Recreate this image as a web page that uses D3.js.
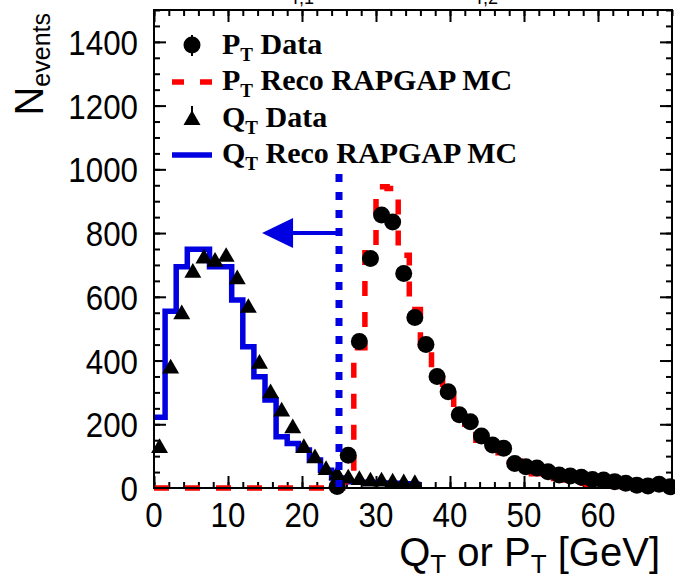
<!DOCTYPE html>
<html><head><meta charset="utf-8">
<script src="https://cdn.jsdelivr.net/npm/d3@7"></script>
<style>body{margin:0;background:#fff}svg{display:block}</style>
</head><body><svg id="c" width="675" height="578"></svg>
<script>
// ---------------- data ----------------
const xDomain = [0, 70];
const yDomain = [0, 1500];
const xMajorTicks = [0, 10, 20, 30, 40, 50, 60];
const yMajorTicks = [0, 200, 400, 600, 800, 1000, 1200, 1400];

// Q_T data (triangles): bin centres and counts
const qtX = [0.75,2.25,3.75,5.25,6.75,8.25,9.75,11.25,12.75,14.25,15.75,17.25,18.75,20.25,21.75,23.25,24.75,26.25,27.75,29.25,30.75,32.25,33.75,35.25];
const qtData = [125,375,545,675,720,710,725,655,565,390,297,240,187,125,93,56,41,30,25,20,20,17,15,12];

// Q_T reco RAPGAP MC (blue histogram): bin edges and contents
const qtMcEdges = [0,1.5,3,4.5,6,7.5,9,10.5,12,13.5,15,16.5,18,19.5,21,22.5,24,25.5,27,28.5,30,31.5,33,34.5,36];
const qtMc = [222,555,694,749,749,694,694,590,443,349,276,161,140,119,88,56,31,20,18,17,16,15,13,12];

// P_T data (circles)
const ptX = [24.75,26.25,27.75,29.25,30.75,32.25,33.75,35.25,36.75,38.25,39.75,41.25,42.75,44.25,45.75,47.25,48.75,50.25,51.75,53.25,54.75,56.25,57.75,59.25,60.75,62.25,63.75,65.25,66.75,68.25,69.75];
const ptData = [5,103,460,720,857,835,673,535,450,350,302,230,208,163,135,125,77,67,63,51,41,38,34,27,25,20,15,9,6,12,4];

// P_T reco RAPGAP MC (red dashed histogram)
const ptMcEdges = [0,1.5,3,4.5,6,7.5,9,10.5,12,13.5,15,16.5,18,19.5,21,22.5,24,25.5,27,28.5,30,31.5,33,34.5,36,37.5,39,40.5,42,43.5,45,46.5,48,49.5,51,52.5,54,55.5,57,58.5,60,61.5,63,64.5,66,67.5,69,70];
const ptMc = [0,0,0,0,0,0,0,0,0,0,0,0,0,0,0,0,0,20,440,760,945,940,730,560,440,345,290,225,190,150,120,100,85,62,45,38,30,25,15,10,8,6,5,4,3,2,0];

// cut line and arrow
const cutX = 25, cutTop = 990;
const arrowY = 800, arrowTipX = 14.6;

// ---------------- drawing ----------------
const svg = d3.select("#c");
const L = 154, R = 672, T = 10, B = 488;
const x = d3.scaleLinear().domain(xDomain).range([L, R]);
const y = d3.scaleLinear().domain(yDomain).range([B, T]);
const BLUE = "#0000e0", RED = "#ff0000";
const sans = "'Liberation Sans', Arial, sans-serif";
const serif = "'Liberation Serif', 'Times New Roman', serif";

// cut-off header remnants
svg.append("text").attr("x", 290).attr("y", 4).style("font-family", sans).style("font-size", "18px").text("T,1");
svg.append("text").attr("x", 474).attr("y", 4).style("font-family", sans).style("font-size", "18px").text("T,2");

// axes ticks (inward), all four sides
const xMinor = d3.range(0, 70.01, 2);
const yMinor = d3.range(0, 1500.01, 50);
function axisG(gen, tr) {
  const g = svg.append("g").attr("transform", tr).call(gen);
  g.select(".domain").remove();
  g.selectAll("line").attr("stroke", "#000").attr("stroke-width", 2);
  g.selectAll("text").remove();
  return g;
}
axisG(d3.axisBottom(x).tickValues(xMinor).tickSize(-6), `translate(0,${B})`);
axisG(d3.axisBottom(x).tickValues(xMajorTicks).tickSize(-12), `translate(0,${B})`);
axisG(d3.axisTop(x).tickValues(xMinor).tickSize(-6), `translate(0,${T})`);
axisG(d3.axisTop(x).tickValues(xMajorTicks).tickSize(-12), `translate(0,${T})`);
axisG(d3.axisLeft(y).tickValues(yMinor).tickSize(-6), `translate(${L},0)`);
axisG(d3.axisLeft(y).tickValues(yMajorTicks).tickSize(-12), `translate(${L},0)`);
axisG(d3.axisRight(y).tickValues(yMinor).tickSize(-6), `translate(${R},0)`);
axisG(d3.axisRight(y).tickValues(yMajorTicks).tickSize(-12), `translate(${R},0)`);

// tick labels
svg.append("g").selectAll("text").data(xMajorTicks).join("text")
  .attr("transform", d => `translate(${x(d)},527) scale(0.95,1.08)`).attr("text-anchor", "middle")
  .style("font-family", sans).style("font-size", "33px").text(d => d);
svg.append("g").selectAll("text").data(yMajorTicks).join("text")
  .attr("transform", d => `translate(138,${y(d) + 13}) scale(0.95,1.08)`).attr("text-anchor", "end")
  .style("font-family", sans).style("font-size", "33px").text(d => d);

// axis titles
const xt = svg.append("text").attr("x", 660).attr("y", 566).attr("text-anchor", "end")
  .style("font-family", sans).style("font-size", "40px");
xt.append("tspan").text("Q");
xt.append("tspan").attr("dy", 7).style("font-size", "26px").text("T");
xt.append("tspan").attr("dy", -7).text(" or P");
xt.append("tspan").attr("dy", 7).style("font-size", "26px").text("T");
xt.append("tspan").attr("dy", -7).text(" [GeV]");

const yt = svg.append("text").attr("transform", "translate(43,13) rotate(-90)").attr("text-anchor", "end")
  .style("font-family", sans).style("font-size", "40px");
yt.append("tspan").text("N");
yt.append("tspan").attr("dy", 7).style("font-size", "25px").text("events");

// histograms
const step = d3.line().x(d => x(d[0])).y(d => y(d[1])).curve(d3.curveStepAfter);
function histPts(edges, vals) {
  const p = vals.map((v, i) => [edges[i], v]);
  p.push([edges[vals.length], vals[vals.length - 1]]);
  return p;
}
svg.append("path").attr("d", step(histPts(qtMcEdges, qtMc)))
  .attr("fill", "none").attr("stroke", BLUE).attr("stroke-width", 5.5);
svg.append("path").attr("d", step(histPts(ptMcEdges, ptMc)))
  .attr("fill", "none").attr("stroke", RED).attr("stroke-width", 5.5).attr("stroke-dasharray", "15,16");

// data markers
const tri = d3.symbol(d3.symbolTriangle, 125);
svg.append("g").selectAll("path").data(qtX).join("path")
  .attr("transform", (d, i) => `translate(${x(d)},${y(qtData[i])})`).attr("d", tri).attr("fill", "#000");
svg.append("g").selectAll("circle").data(ptX).join("circle")
  .attr("cx", d => x(d)).attr("cy", (d, i) => y(ptData[i])).attr("r", 8.5).attr("fill", "#000");

// cut line and arrow
svg.append("line").attr("x1", x(cutX)).attr("x2", x(cutX)).attr("y1", y(0)).attr("y2", y(cutTop))
  .attr("stroke", BLUE).attr("stroke-width", 7).attr("stroke-dasharray", "8,10");
svg.append("line").attr("x1", x(cutX)).attr("x2", x(arrowTipX) + 25).attr("y1", y(arrowY)).attr("y2", y(arrowY))
  .attr("stroke", BLUE).attr("stroke-width", 4);
svg.append("path").attr("fill", BLUE)
  .attr("d", `M${x(arrowTipX)},${y(arrowY)}L${x(arrowTipX) + 31},${y(arrowY) - 15}L${x(arrowTipX) + 31},${y(arrowY) + 15}Z`);

// frame
svg.append("rect").attr("x", L).attr("y", T).attr("width", R - L).attr("height", B - T)
  .attr("fill", "none").attr("stroke", "#000").attr("stroke-width", 2);

// legend
const lg = svg.append("g");
lg.append("line").attr("x1", 192).attr("x2", 192).attr("y1", 35).attr("y2", 56).attr("stroke", "#000").attr("stroke-width", 2);
lg.append("circle").attr("cx", 192).attr("cy", 45).attr("r", 8.5).attr("fill", "#000");
lg.append("line").attr("x1", 172).attr("x2", 212).attr("y1", 82).attr("y2", 82).attr("stroke", RED).attr("stroke-width", 5.5).attr("stroke-dasharray", "12,16");
lg.append("line").attr("x1", 192).attr("x2", 192).attr("y1", 106).attr("y2", 118).attr("stroke", "#000").attr("stroke-width", 2);
lg.append("path").attr("transform", "translate(192,120)").attr("d", tri).attr("fill", "#000");
lg.append("line").attr("x1", 172).attr("x2", 212).attr("y1", 155).attr("y2", 155).attr("stroke", BLUE).attr("stroke-width", 5.5);

const legendRows = [["P", " Data", 54], ["P", " Reco RAPGAP MC", 90], ["Q", " Data", 127], ["Q", " Reco RAPGAP MC", 163]];
legendRows.forEach(([a, b, yy]) => {
  const t = lg.append("text").attr("x", 222).attr("y", yy)
    .style("font-family", serif).style("font-weight", "bold").style("font-size", "30px");
  t.append("tspan").text(a);
  t.append("tspan").attr("dy", 7).style("font-size", "19px").text("T");
  t.append("tspan").attr("dy", -7).text(b);
});
</script></body></html>
